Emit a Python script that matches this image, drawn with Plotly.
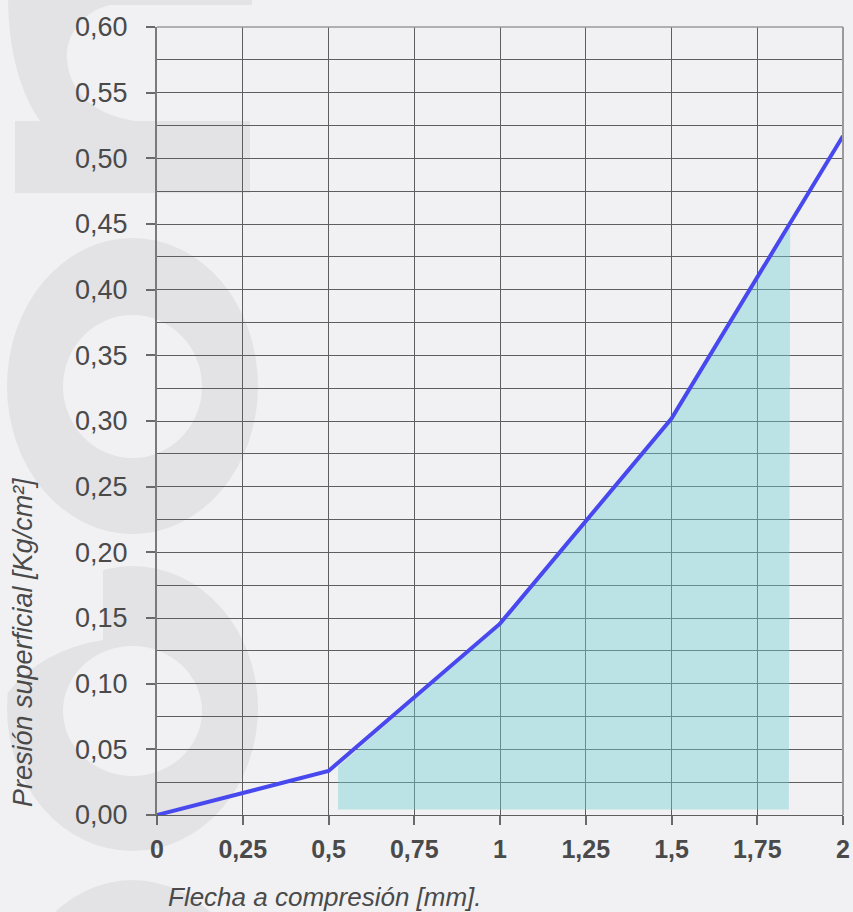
import plotly.graph_objects as go

# ---------------- data ----------------
flecha_mm = [0, 0.5, 1.0, 1.5, 2.0]
presion = [0.0, 0.0335, 0.1457, 0.3018, 0.517]

zona_x = [0.528, 0.528, 1.0, 1.5, 1.846, 1.842]
zona_y = [0.0041, 0.037, 0.1445, 0.300, 0.4477, 0.0041]

x_tickvals = [0, 0.25, 0.5, 0.75, 1.0, 1.25, 1.5, 1.75, 2.0]
x_ticktext = ["0", "0,25", "0,5", "0,75", "1", "1,25", "1,5", "1,75", "2"]
y_tickvals = [0.0, 0.05, 0.10, 0.15, 0.20, 0.25, 0.30, 0.35, 0.40, 0.45, 0.50, 0.55, 0.60]
y_ticktext = ["0,00", "0,05", "0,10", "0,15", "0,20", "0,25", "0,30", "0,35",
              "0,40", "0,45", "0,50", "0,55", "0,60"]

x_title = "Flecha a compresión [mm]."
y_title = "Presión superficial [Kg/cm²]"

# ---------------- layout geometry (pixels) ----------------
W, H = 853, 912
L, R, T, B = 157, 10, 27, 97
PW, PH = W - L - R, H - T - B
BG = "#f1f1f3"
WM = "#e3e3e5"


def px(x):
    return (x - L) / PW


def py(y):
    return (H - B - y) / PH


def ellipse(x0, y0, x1, y1, color):
    return dict(type="circle", xref="paper", yref="paper", layer="below",
                x0=px(x0), x1=px(x1), y0=py(y1), y1=py(y0),
                fillcolor=color, line=dict(width=0))


def path(cmds, color):
    s = ""
    for c in cmds:
        op, pts = c[0], c[1:]
        s += op + " " + " ".join(f"{px(a):.5f},{py(b):.5f}" for a, b in pts) + " "
    s += "Z"
    return dict(type="path", xref="paper", yref="paper", layer="below",
                path=s, fillcolor=color, line=dict(width=0))


shapes = [
    # top curved piece
    path([("M", (8, -5)), ("L", (252, -5)), ("L", (252, 5)), ("L", (110, 5)),
          ("C", (80, 12), (65, 38), (67, 60)),
          ("C", (70, 92), (92, 114), (135, 121)),
          ("L", (40, 121)),
          ("C", (20, 92), (8, 50), (8, -5))], WM),
    # rectangle
    dict(type="rect", xref="paper", yref="paper", layer="below",
         x0=px(15), x1=px(250), y0=py(193), y1=py(121),
         fillcolor=WM, line=dict(width=0)),
    # ring 1
    ellipse(7, 238, 258, 534, WM),
    ellipse(63, 315, 202, 458, BG),
    # ring 2
    ellipse(7, 566, 258, 851, WM),
    ellipse(63, 646, 202, 776, BG),
    path([("M", (0, 555)), ("L", (103, 555)), ("L", (103, 640)),
          ("Q", (40, 650), (6, 695)), ("L", (0, 695))], BG),
    # bottom piece
    ellipse(7, 880, 258, 1180, WM),
    # top and right borders of the plot
    dict(type="line", xref="paper", yref="paper", x0=0, x1=1, y0=1, y1=1,
         line=dict(color="#9a9a9a", width=1.5)),
    dict(type="line", xref="paper", yref="paper", x0=1, x1=1, y0=0, y1=1,
         line=dict(color="#9a9a9a", width=2)),
]

fig = go.Figure()

fig.add_trace(go.Scatter(
    x=zona_x, y=zona_y, mode="lines", fill="toself",
    fillcolor="rgba(113,206,210,0.42)", line=dict(width=0),
    hoverinfo="skip", showlegend=False))

fig.add_trace(go.Scatter(
    x=flecha_mm, y=presion, mode="lines",
    line=dict(color="#4848ef", width=4), showlegend=False))

FONT = "Liberation Sans, Arial, sans-serif"

fig.update_layout(
    width=W, height=H,
    margin=dict(l=L, r=R, t=T, b=B, autoexpand=False),
    paper_bgcolor=BG, plot_bgcolor="rgba(0,0,0,0)",
    shapes=shapes,
    font=dict(family=FONT, color="#4a4a4a"),
    xaxis=dict(
        range=[0, 2], tickmode="array", tickvals=x_tickvals, ticktext=x_ticktext,
        automargin=False,
        showgrid=True, gridcolor="#5e5e5e", gridwidth=1,
        zeroline=False, showline=True, linecolor="#5e5e5e", linewidth=1,
        ticks="outside", ticklen=9, tickcolor="#6a6a6a", tickwidth=1.5,
        tickfont=dict(family="Liberation Sans, Arial", size=25, color="#4a4a4a",
                      weight="bold"),
        ticklabelstandoff=3,
    ),
    yaxis=dict(
        range=[0, 0.6], tickmode="array", tickvals=y_tickvals, ticktext=y_ticktext,
        automargin=False,
        showgrid=True, gridcolor="#5e5e5e", gridwidth=1,
        minor=dict(dtick=0.025, showgrid=True, gridcolor="#5e5e5e", gridwidth=1,
                   ticks=""),
        zeroline=False, showline=True, linecolor="#7a7a7a", linewidth=2,
        ticks="outside", ticklen=9, tickcolor="#6a6a6a", tickwidth=1.5,
        tickfont=dict(family="Liberation Sans, Arial", size=27, color="#4a4a4a"),
        ticklabelstandoff=13,
    ),
    annotations=[
        dict(text=y_title, xref="paper", yref="paper",
             x=px(23), y=py(642), xanchor="center", yanchor="middle",
             textangle=-90, showarrow=False,
             font=dict(family="Liberation Sans, Arial", size=27, color="#4a4a4a",
                       style="italic")),
        dict(text=x_title, xref="paper", yref="paper",
             x=px(166), y=py(897), xanchor="left", yanchor="middle",
             showarrow=False,
             font=dict(family="Liberation Sans, Arial", size=26, color="#4a4a4a",
                       style="italic")),
    ],
)

fig.write_html(
    "out.html",
    config={"displayModeBar": False},
    post_script="document.body.style.margin='0';"
                "document.body.style.background='%s';"
                "document.documentElement.style.overflow='hidden';" % BG,
)
